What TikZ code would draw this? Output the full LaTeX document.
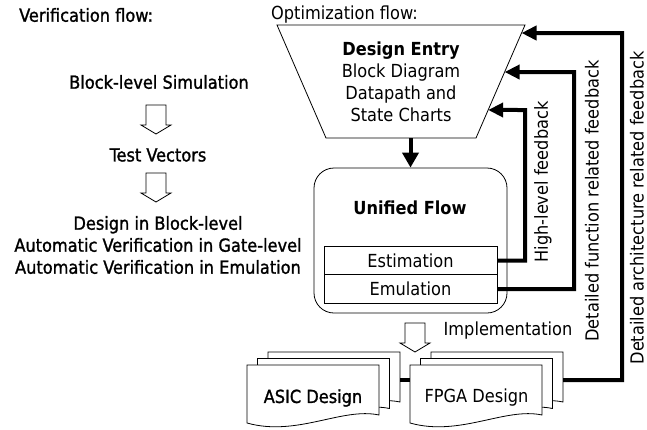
\documentclass[tikz,border=0pt]{standalone}
\usepackage{fontspec}
\setmainfont{DejaVu Sans Condensed}
\newfontfamily\medfont{DejaVu Sans Condensed}[FakeBold=1.3]
\usetikzlibrary{arrows.meta,calc}
\begin{document}
\begin{tikzpicture}[x=1pt,y=-1pt,
  every node/.style={font=\fontsize{18}{22}\selectfont, inner sep=0pt},
  medtext/.style={font=\fontsize{18}{22}\selectfont\medfont},
  thinline/.style={line width=0.8pt},
  fb/.style={line width=4pt, -{Triangle[length=15pt,width=14pt]}},
  boxnode/.style={draw, thinline, minimum width=173pt, minimum height=28.5pt},
  docpage/.pic={\draw[thinline, fill=white] (0,0) -- (132,0) -- (132,50)
      .. controls (95,42) and (50,72) .. (0,58) -- cycle;},
  hollowarrow/.pic={\draw[thinline, fill=white] (-10,0) -- (10,0) -- (10,20) -- (15,20)
      -- (0,29) -- (-15,20) -- (-10,20) -- cycle;}
]
\useasboundingbox (0,0) rectangle (647,429);

% headings
\node[anchor=west, medtext] (verif) at (19,15) {Verification flow:};
\node[anchor=west] (optim) at (271,15) {Optimization flow:};

% verification column
\node[medtext] (bls) at (159,82) {Block-level Simulation};
\pic at (156,105) {hollowarrow};
\node[medtext] (tv) at (158,155) {Test Vectors};
\pic at (156,173) {hollowarrow};
\node[medtext, align=center] (dib) at (158,245) {Design in Block-level\\Automatic Verification in Gate-level\\Automatic Verification in Emulation};

% design entry trapezoid
\coordinate (tl) at (277,25);
\coordinate (tr) at (525,25);
\coordinate (br) at (476,138);
\coordinate (bl) at (326,138);
\draw[thinline] (tl) -- (tr) -- (br) -- (bl) -- cycle;
\node[align=center] (entry) at (401,82) {\textbf{Design Entry}\\Block Diagram\\Datapath and\\State Charts};
\coordinate (in1) at ($(tr)!0.0708!(br)$);
\coordinate (in2) at ($(tr)!0.416!(br)$);
\coordinate (in3) at ($(tr)!0.752!(br)$);

% unified flow
\node[draw, thinline, rounded corners=20pt, minimum width=193pt, minimum height=145pt] (uf) at (410.5,240.5) {};
\node (uft) at (410,208) {\textbf{Unified Flow}};
\node[boxnode] (est) at (410.5,260.5) {Estimation};
\node[boxnode] (emu) at (410.5,289) {Emulation};
\coordinate (entrybot) at (uf.north |- bl);
\draw[line width=4pt, -{Triangle[length=15pt,width=16pt]}] (entrybot) -- (uf.north);

% implementation
\pic at (415,323) {hollowarrow};
\node (impl) at (508,331) {Implementation};

% documents
\pic at (268,352) {docpage};
\pic at (257.5,358.5) {docpage};
\pic at (247,365) {docpage};
\node[medtext] (asic) at (313,398) {ASIC Design};
\pic at (431,352) {docpage};
\pic at (420.5,358.5) {docpage};
\pic at (410,365) {docpage};
\node (fpga) at (476.5,398) {FPGA Design};
\coordinate (asicR) at (400,380);
\coordinate (fpgaL) at (410,380);
\coordinate (fpgaR) at (563,380);
\draw[line width=4pt] (asicR) -- (fpgaL);

% feedback loops
\coordinate (x1) at (525,110);
\coordinate (x2) at (574,72);
\coordinate (x3) at (622,33);
\draw[fb] (est.east) -| (x1) -- (in3);
\draw[fb] (emu.east) -| (x2) -- (in2);
\draw[fb] (fpgaR) -| (x3) -- (in1);
\node[rotate=90] (l1) at (543,182) {High-level feedback};
\node[rotate=90] (l2) at (592,201) {Detailed function related feedback};
\node[rotate=90] (l3) at (637,208) {Detailed architecture related feedback};
\end{tikzpicture}
\end{document}
